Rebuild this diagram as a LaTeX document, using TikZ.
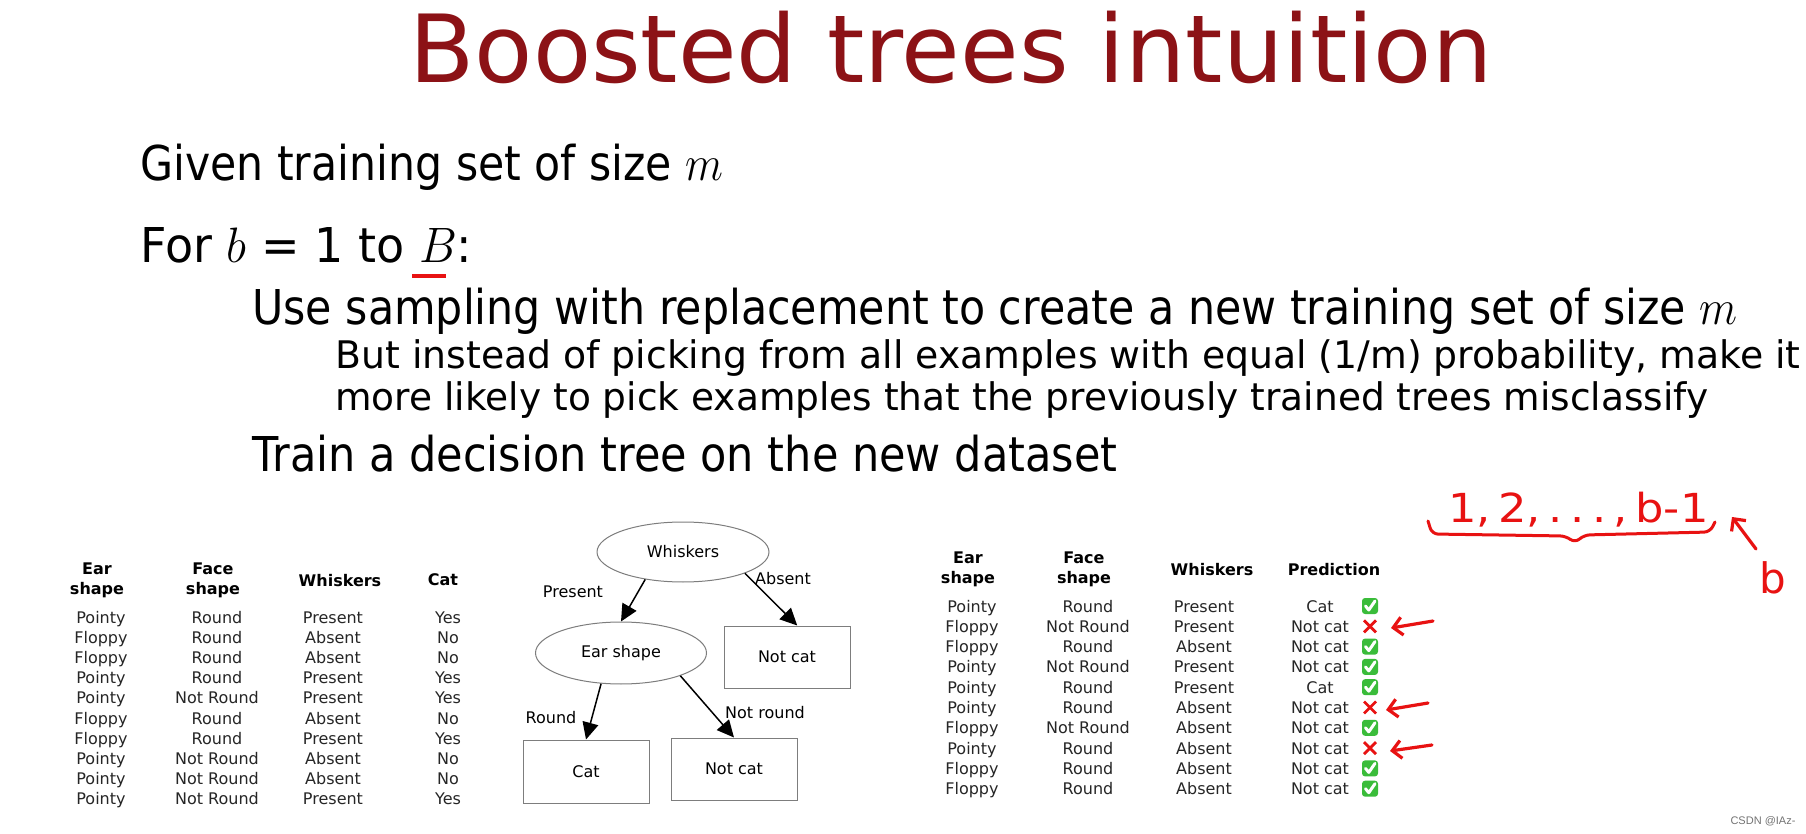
\documentclass[tikz,border=0pt]{standalone}
\usepackage{fontspec}
\usepackage{graphicx}
\setmainfont{DejaVu Sans}
\newfontfamily\wmfont{Liberation Sans}
\usetikzlibrary{shapes.geometric,arrows.meta}
\definecolor{titlered}{RGB}{140,18,22}
\definecolor{inkred}{RGB}{232,18,18}
\definecolor{okgreen}{RGB}{58,188,58}
\definecolor{boxgray}{RGB}{125,125,125}
\newcommand{\fitw}[2]{\resizebox{#1}{\height}{#2}}
\tikzset{
 titletext/.style={anchor=base west, inner sep=0pt, text=titlered, font=\fontsize{47}{56}\selectfont},
 body/.style={anchor=base west, inner sep=0pt, font=\fontsize{24}{29}\selectfont},
 subtext/.style={anchor=base west, inner sep=0pt, font=\fontsize{19}{23}\selectfont},
 cell/.style={anchor=base, inner sep=0pt, text=black!85, font=\fontsize{8}{10}\selectfont},
 headcell/.style={anchor=base, inner sep=0pt, text=black, font=\fontsize{8}{10}\selectfont\bfseries},
 dnode/.style={draw=boxgray, line width=0.5pt, inner sep=0pt, font=\fontsize{8}{10}\selectfont},
 ell/.style={dnode, ellipse},
 leaf/.style={dnode, rectangle},
 tarrow/.style={line width=0.75pt, -{Triangle[length=8.5pt,width=8pt]}},
 elabel/.style={inner sep=0pt, font=\fontsize{8}{10}\selectfont},
 redarrow/.style={draw=inkred, line width=1.6pt, line cap=round, -{Straight Barb[length=4.5pt,width=9pt]}},
 ink/.style={text=inkred, inner sep=0pt},
 okmark/.pic={\fill[okgreen, rounded corners=1.5pt] (-8,-8) rectangle (8,8);
   \draw[white, line width=1.5pt, line cap=round, line join=round] (-4.5,0) -- (-1.2,4) -- (5,-5);},
 nomark/.pic={\draw[inkred, line width=1.4pt] (-6,-6) -- (6,6) (-6,6) -- (6,-6);},
}
\begin{document}
\begin{tikzpicture}[x=0.5pt,y=-0.5pt]
\useasboundingbox (0,0) rectangle (1806,834);
\fill[white] (0,0) rectangle (1806,834);

% title and text
\node[titletext] (title) at (409,83) {\fitw{541.5pt}{Boosted trees intuition}};
\node[body] (given) at (140,181) {\fitw{291.5pt}{Given training set of size $m$}};
\node[body] (forb) at (140,263) {\fitw{166pt}{For $b$ = 1 to $B$:}};
\coordinate (ulA) at (412,276);
\coordinate (ulB) at (446,276);
\draw[inkred, line width=2pt] (ulA) -- (ulB);
\node[body] (use) at (252,325) {\fitw{742.5pt}{Use sampling with replacement to create a new training set of size $m$}};
\node[subtext] (but) at (335,369) {\fitw{732.5pt}{But instead of picking from all examples with equal (1/m) probability, make it}};
\node[subtext] (more) at (335,411) {\fitw{686.5pt}{more likely to pick examples that the previously trained trees misclassify}};
\node[body] (train) at (252,472) {\fitw{432.5pt}{Train a decision tree on the new dataset}};

% left table
\node[headcell] (LhE1) at (97,574) {Ear};
\node[headcell] (LhE2) at (97,594) {shape};
\node[headcell] (LhF1) at (213,574) {Face};
\node[headcell] (LhF2) at (213,594) {shape};
\node[headcell] (LhW) at (340,586) {Whiskers};
\node[headcell] (LhC) at (443,585) {Cat};
\foreach \e/\f/\w/\c [count=\i from 0] in {
  Pointy/Round/Present/Yes, Floppy/Round/Absent/No, Floppy/Round/Absent/No,
  Pointy/Round/Present/Yes, Pointy/Not Round/Present/Yes, Floppy/Round/Absent/No,
  Floppy/Round/Present/Yes, Pointy/Not Round/Absent/No, Pointy/Not Round/Absent/No,
  Pointy/Not Round/Present/Yes} {
  \node[cell] (LE\i) at (101,{623+20.2*\i}) {\e};
  \node[cell] (LF\i) at (217,{623+20.2*\i}) {\f};
  \node[cell] (LW\i) at (333,{623+20.2*\i}) {\w};
  \node[cell] (LC\i) at (448,{623+20.2*\i}) {\c};
}

% decision tree
\node[ell, minimum width=86pt, minimum height=30pt] (wh) at (683,552) {Whiskers};
\node[ell, minimum width=85.5pt, minimum height=31pt] (ear) at (621,653) {Ear shape};
\node[leaf, minimum width=63pt, minimum height=31pt] (nc1) at (787,657) {Not cat};
\node[leaf, minimum width=63pt, minimum height=31.5pt] (cat) at (586,771.5) {Cat};
\node[leaf, minimum width=63pt, minimum height=31pt] (nc2) at (734,769) {Not cat};
\draw[tarrow] (wh.216) -- (ear.north);
\draw[tarrow] (wh.341) -- (nc1.72);
\draw[tarrow] (ear.237) -- (cat.north);
\draw[tarrow] (ear.339) -- (nc2.north);
\node[elabel] (lpres) at (573,592) {Present};
\node[elabel] (labs) at (783,579) {Absent};
\node[elabel] (lround) at (551,718) {Round};
\node[elabel] (lnround) at (765,713) {Not round};

% right table
\node[headcell] (RhE1) at (968,563) {Ear};
\node[headcell] (RhE2) at (968,583) {shape};
\node[headcell] (RhF1) at (1084,563) {Face};
\node[headcell] (RhF2) at (1084,583) {shape};
\node[headcell] (RhW) at (1212,575) {Whiskers};
\node[headcell] (RhP) at (1334,575) {Prediction};
\foreach \e/\f/\w/\p/\m [count=\i from 0] in {
  Pointy/Round/Present/Cat/okmark, Floppy/Not Round/Present/Not cat/nomark,
  Floppy/Round/Absent/Not cat/okmark, Pointy/Not Round/Present/Not cat/okmark,
  Pointy/Round/Present/Cat/okmark, Pointy/Round/Absent/Not cat/nomark,
  Floppy/Not Round/Absent/Not cat/okmark, Pointy/Round/Absent/Not cat/nomark,
  Floppy/Round/Absent/Not cat/okmark, Floppy/Round/Absent/Not cat/okmark} {
  \node[cell] (RE\i) at (972,{612+20.3*\i}) {\e};
  \node[cell] (RF\i) at (1088,{612+20.3*\i}) {\f};
  \node[cell] (RW\i) at (1204,{612+20.3*\i}) {\w};
  \node[cell] (RP\i) at (1320,{612+20.3*\i}) {\p};
  \pic at (1370,{606+20.3*\i}) {\m};
}
% red arrows at misclassified rows
\coordinate (a1s) at (1433,621); \coordinate (a1e) at (1391,628);
\coordinate (a2s) at (1428,703); \coordinate (a2e) at (1386,710);
\coordinate (a3s) at (1432,745); \coordinate (a3e) at (1390,751);
\draw[redarrow] (a1s) -- (a1e);
\draw[redarrow] (a2s) -- (a2e);
\draw[redarrow] (a3s) -- (a3e);

% handwritten annotation
\node[ink, anchor=base west, font=\fontsize{20}{24}\selectfont] (seq) at (1448,522) {\fitw{130pt}{1,\,2,\,.\,.\,.\,,\,b-1}};
\draw[inkred, line width=1.5pt, line cap=round, line join=round, rounded corners=3pt]
  (1428,521) -- (1432,534) -- (1566,536) -- (1575,543) -- (1584,535) -- (1710,532) -- (1715,522);
\node[ink, font=\fontsize{21}{25}\selectfont] (bb) at (1773,578) {b};
\coordinate (bs) at (1756,549); \coordinate (be) at (1732,517);
\draw[redarrow] (bs) -- (be);

% watermark
\node[inner sep=0pt, text=black!55, font=\wmfont\fontsize{5.5}{7}\selectfont] (wm) at (1763,821) {CSDN @IAz-};
\end{tikzpicture}
\end{document}
